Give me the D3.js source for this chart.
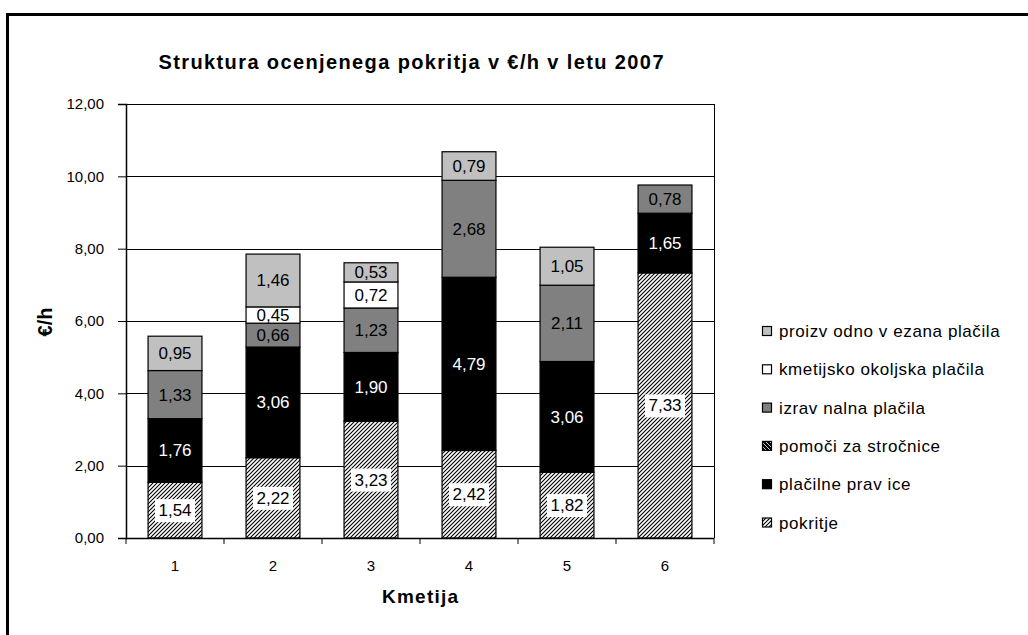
<!DOCTYPE html>
<html>
<head>
<meta charset="utf-8">
<script src="https://cdn.jsdelivr.net/npm/d3@7"></script>
<style>
  body { margin: 0; background: #fff; }
  text { font-family: "Liberation Sans", Arial, sans-serif; }
</style>
</head>
<body>
<svg id="chart" width="1028" height="635"></svg>
<script>
// farms on the x axis
var farms = ["1", "2", "3", "4", "5", "6"];

// series values (€/h), bottom to top of the stack
var pokritje = [1.54, 2.22, 3.23, 2.42, 1.82, 7.33];
var placilnePravice = [1.76, 3.06, 1.90, 4.79, 3.06, 1.65];
var pomociStrocnice = [0, 0, 0, 0, 0, 0];
var izravnalna = [1.33, 0.66, 1.23, 2.68, 2.11, 0.78];
var kmetijskoOkoljska = [0, 0.45, 0.72, 0, 0, 0];
var proizvodnoVezana = [0.95, 1.46, 0.53, 0.79, 1.05, 0];

var seriesNames = ["pokritje", "plačilne prav ice", "pomoči za stročnice",
  "izrav nalna plačila", "kmetijsko okoljska plačila", "proizv odno v ezana plačila"];
var yTicks = [0, 2, 4, 6, 8, 10, 12];

var allSeries = [pokritje, placilnePravice, pomociStrocnice, izravnalna, kmetijskoOkoljska, proizvodnoVezana];
var fills = ["url(#hatchUp)", "#000000", "url(#hatchDown)", "#808080", "#ffffff", "#c0c0c0"];
var labelColors = ["#000", "#fff", "#fff", "#000", "#000", "#000"];

var svg = d3.select("#chart");

// patterns
var defs = svg.append("defs");
var p1 = defs.append("pattern").attr("id", "hatchUp")
  .attr("patternUnits", "userSpaceOnUse").attr("width", 4).attr("height", 4);
p1.append("rect").attr("width", 4).attr("height", 4).attr("fill", "#fff");
p1.append("path").attr("d", "M-1,1 l2,-2 M0,4 l4,-4 M3,5 l2,-2")
  .attr("stroke", "#000").attr("stroke-width", 1.1);
var p2 = defs.append("pattern").attr("id", "hatchDown")
  .attr("patternUnits", "userSpaceOnUse").attr("width", 4).attr("height", 4);
p2.append("rect").attr("width", 4).attr("height", 4).attr("fill", "#000");
p2.append("path").attr("d", "M-1,3 l2,2 M0,0 l4,4 M3,-1 l2,2")
  .attr("stroke", "#fff").attr("stroke-width", 0.8);

// outer chart border
svg.append("rect")
  .attr("x", 7.5).attr("y", 14.5).attr("width", 1040).attr("height", 640)
  .attr("fill", "none").attr("stroke", "#000").attr("stroke-width", 3);

var margin = { left: 126, top: 104, right: 714, bottom: 538 };

var x = d3.scaleBand()
  .domain(farms)
  .range([margin.left, margin.right])
  .paddingInner(0.45)
  .paddingOuter(0.225);

var y = d3.scaleLinear()
  .domain([0, 12])
  .range([margin.bottom, margin.top]);

// gridlines
svg.append("g").selectAll("line")
  .data(yTicks.filter(function(d) { return d > 0; }))
  .enter().append("line")
  .attr("x1", margin.left).attr("x2", margin.right)
  .attr("y1", function(d) { return Math.round(y(d)) + 0.5; })
  .attr("y2", function(d) { return Math.round(y(d)) + 0.5; })
  .attr("stroke", "#000").attr("stroke-width", 1);

// right border of plot area
svg.append("line")
  .attr("x1", margin.right + 0.5).attr("x2", margin.right + 0.5)
  .attr("y1", margin.top).attr("y2", margin.bottom)
  .attr("stroke", "#000");

// stack data
var rows = farms.map(function(f, i) {
  var row = { farm: f };
  allSeries.forEach(function(s, k) { row["s" + k] = s[i]; });
  return row;
});
var stack = d3.stack().keys(allSeries.map(function(s, k) { return "s" + k; }))(rows);

var layers = svg.append("g").selectAll("g")
  .data(stack)
  .enter().append("g");

layers.selectAll("rect")
  .data(function(d) { return d.filter(function(p) { return p[1] - p[0] > 0; }); })
  .enter().append("rect")
  .attr("x", function(d) { return x(d.data.farm); })
  .attr("width", x.bandwidth())
  .attr("y", function(d) { return y(d[1]); })
  .attr("height", function(d) { return y(d[0]) - y(d[1]); })
  .attr("fill", function() { return fills[d3.select(this.parentNode).datum().index]; })
  .attr("stroke", "#000")
  .attr("stroke-width", 1.2);

// labels
var fmt = function(v) { return v.toFixed(2).replace(".", ","); };
stack.forEach(function(layer, k) {
  layer.forEach(function(p) {
    var v = p[1] - p[0];
    if (v <= 0) return;
    var cx = x(p.data.farm) + x.bandwidth() / 2;
    var cy = (y(p[0]) + y(p[1])) / 2;
    if (k === 0) {
      svg.append("rect")
        .attr("x", cx - 20).attr("y", cy - 11)
        .attr("width", 40).attr("height", 23)
        .attr("fill", "#fff");
    }
    svg.append("text")
      .attr("x", cx).attr("y", cy + 6)
      .attr("text-anchor", "middle")
      .attr("fill", labelColors[k])
      .style("font-size", "17px")
      .text(fmt(v));
  });
});

// y axis
var yAxis = svg.append("g")
  .attr("transform", "translate(" + margin.left + ",0)")
  .call(d3.axisLeft(y).tickValues(yTicks).tickSize(8).tickPadding(14).tickFormat(fmt));
yAxis.selectAll("text").style("font-size", "15px").attr("fill", "#000");
yAxis.select(".domain").attr("stroke-width", 1.5);

// x axis
var xAxis = svg.append("g")
  .attr("transform", "translate(0," + margin.bottom + ")")
  .call(d3.axisBottom(x).tickSize(0).tickPadding(22));
xAxis.selectAll("text").style("font-size", "15px").attr("fill", "#000");
xAxis.select(".domain").attr("d", "M" + margin.left + ",0.5H" + margin.right).attr("stroke-width", 1.5);
// ticks between categories
var step = x.step();
xAxis.selectAll(".sep")
  .data(d3.range(farms.length + 1))
  .enter().append("line")
  .attr("x1", function(i) { return margin.left + i * step; })
  .attr("x2", function(i) { return margin.left + i * step; })
  .attr("y1", 0).attr("y2", 6)
  .attr("stroke", "#000");

// titles
svg.append("text")
  .attr("x", 411).attr("y", 69)
  .attr("text-anchor", "middle")
  .attr("textLength", 505).attr("lengthAdjust", "spacing")
  .style("font-size", "20px").style("font-weight", "bold")
  .text("Struktura ocenjenega pokritja v €/h v letu 2007");

svg.append("text")
  .attr("x", 420).attr("y", 603)
  .attr("text-anchor", "middle")
  .attr("textLength", 76).attr("lengthAdjust", "spacing")
  .style("font-size", "19px").style("font-weight", "bold")
  .text("Kmetija");

svg.append("text")
  .attr("transform", "translate(52,322) rotate(-90)")
  .attr("text-anchor", "middle")
  .style("font-size", "20px").style("font-weight", "bold")
  .text("€/h");

// legend, top entry is last series
var legend = svg.append("g");
var order = d3.range(allSeries.length).reverse();
order.forEach(function(k, i) {
  var ly = 331 + i * 38.3;
  legend.append("rect")
    .attr("x", 762.5).attr("y", ly - 4.5)
    .attr("width", 9).attr("height", 9)
    .attr("fill", fills[k])
    .attr("stroke", "#000").attr("stroke-width", 1.2);
  legend.append("text")
    .attr("x", 779).attr("y", ly + 6)
    .style("font-size", "17px")
    .style("letter-spacing", "0.6px")
    .text(seriesNames[k]);
});
</script>
</body>
</html>
